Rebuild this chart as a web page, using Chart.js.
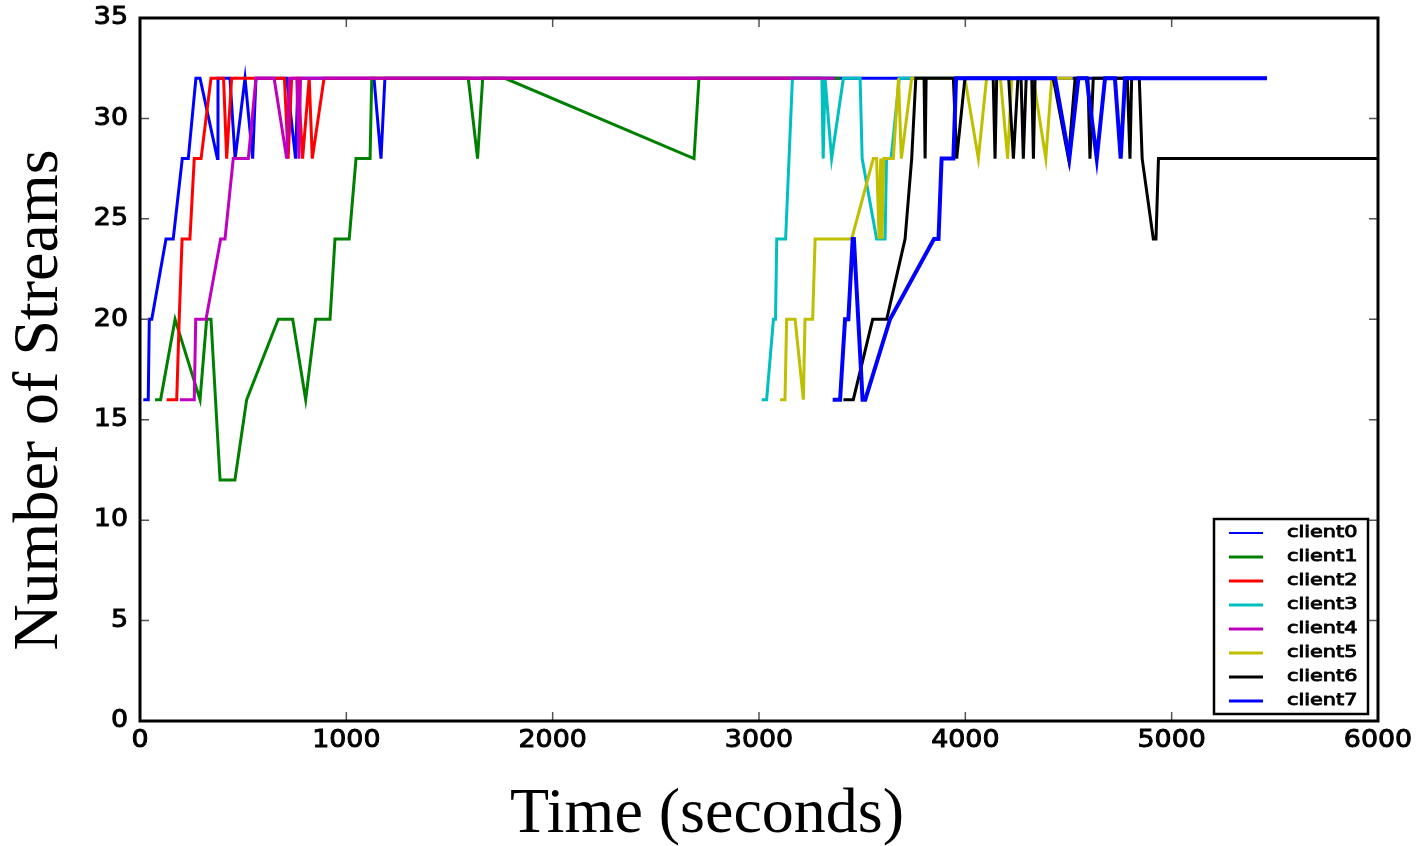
<!DOCTYPE html>
<html>
<head>
<meta charset="utf-8">
<script src="https://cdn.jsdelivr.net/npm/chart.js@4.4.1/dist/chart.umd.min.js"></script>
<style>
  body { margin: 0; background: #fff; }
  #wrap { width: 1425px; height: 846px; }
</style>
</head>
<body>
<div id="wrap"><canvas id="myChart" width="1425" height="846"></canvas></div>
<script>
// stream counts per client over elapsed time
var clientNames = ['client0', 'client1', 'client2', 'client3', 'client4', 'client5', 'client6', 'client7'];
var clientColors = ['#0000ff', '#008000', '#ff0000', '#00bfbf', '#bf00bf', '#bfbf00', '#000000', '#0000ff'];

var client0Time = [16, 40, 45, 57, 126, 161, 205, 234, 271, 291, 375, 378, 436, 461, 509, 546, 562, 711, 754, 766, 1134, 1168, 1187, 5462];
var client0Streams = [16, 16, 20, 20, 24, 24, 28, 28, 32, 32, 28, 32, 32, 28, 32, 28, 32, 32, 28, 32, 32, 28, 32, 32];

var client1Time = [73, 100, 170, 291, 323, 344, 388, 460, 517, 670, 740, 803, 851, 921, 945, 1014, 1047, 1115, 1123, 1591, 1636, 1661, 1769, 2685, 2709, 3395];
var client1Streams = [16, 16, 20, 16, 20, 20, 12, 12, 16, 20, 20, 16, 20, 20, 24, 24, 28, 28, 32, 32, 28, 32, 32, 28, 32, 32];

var client2Time = [129, 178, 190, 204, 242, 263, 296, 344, 405, 420, 444, 700, 718, 735, 766, 788, 820, 835, 892, 3300];
var client2Streams = [16, 16, 20, 24, 24, 28, 28, 32, 32, 28, 32, 32, 28, 32, 32, 28, 32, 28, 32, 32];

var client3Time = [3013, 3037, 3070, 3080, 3086, 3129, 3162, 3305, 3311, 3320, 3352, 3409, 3490, 3500, 3570, 3611, 3618, 3640, 3680, 4400];
var client3Streams = [16, 16, 20, 20, 24, 24, 32, 32, 28, 32, 28, 32, 32, 28, 24, 24, 28, 28, 32, 32];

var client4Time = [194, 263, 270, 320, 391, 412, 452, 525, 562, 650, 711, 724, 760, 770, 778, 3368];
var client4Streams = [16, 16, 20, 20, 24, 24, 28, 28, 32, 32, 28, 32, 32, 28, 32, 32];

var client5Time = [3102, 3126, 3134, 3175, 3215, 3223, 3260, 3272, 3449, 3554, 3570, 3582, 3590, 3596, 3605, 3651, 3676, 3690, 3740, 3998, 4063, 4103, 4170, 4205, 4225, 4329, 4390, 4419, 4520];
var client5Streams = [16, 16, 20, 20, 16, 20, 20, 24, 24, 28, 28, 24, 28, 24, 28, 28, 32, 28, 32, 32, 28, 32, 32, 28, 32, 32, 28, 32, 32];

var client6Time = [3409, 3457, 3551, 3619, 3708, 3740, 3760, 3800, 3805, 3810, 3942, 3958, 3998, 4135, 4144, 4152, 4210, 4233, 4255, 4270, 4281, 4295, 4322, 4330, 4338, 4426, 4500, 4532, 4594, 4604, 4620, 4785, 4798, 4806, 4843, 4857, 4911, 4924, 4936, 5995];
var client6Streams = [16, 16, 20, 20, 24, 28, 32, 32, 28, 32, 32, 28, 32, 32, 28, 32, 32, 28, 32, 32, 28, 32, 32, 28, 32, 32, 28, 32, 32, 28, 32, 32, 28, 32, 32, 28, 24, 24, 28, 28];

var client7Time = [3357, 3393, 3417, 3433, 3454, 3460, 3502, 3515, 3635, 3848, 3870, 3885, 3942, 3955, 4435, 4504, 4548, 4588, 4637, 4677, 4725, 4753, 4774, 5462];
var client7Streams = [16, 16, 20, 20, 24, 24, 16, 16, 20, 24, 24, 28, 28, 32, 32, 28, 32, 32, 28, 32, 32, 28, 32, 32];

var xTicks = [0, 1000, 2000, 3000, 4000, 5000, 6000];
var yTicks = [0, 5, 10, 15, 20, 25, 30, 35];

var allTimes = [client0Time, client1Time, client2Time, client3Time, client4Time, client5Time, client6Time, client7Time];
var allStreams = [client0Streams, client1Streams, client2Streams, client3Streams, client4Streams, client5Streams, client6Streams, client7Streams];

function points(ts, vs) {
  var out = [];
  for (var i = 0; i < ts.length; i++) out.push({ x: ts[i], y: vs[i] });
  return out;
}

var datasets = [];
for (var i = 0; i < clientNames.length; i++) {
  datasets.push({
    label: clientNames[i],
    data: points(allTimes[i], allStreams[i]),
    borderColor: clientColors[i],
    backgroundColor: clientColors[i],
    borderWidth: i == 7 ? 4 : 3,
    pointRadius: 0,
    tension: 0,
    fill: false,
    order: 7 - i   // later clients drawn on top
  });
}

// sans labels come out wide and heavy, so stretch and outline them a little
function stretchText(ctx, txt, x, y, align, sx) {
  ctx.save();
  ctx.translate(x, y);
  ctx.scale(sx, 1);
  ctx.textAlign = align;
  ctx.lineWidth = 0.9;
  ctx.strokeStyle = '#000';
  ctx.fillText(txt, 0, 0);
  ctx.strokeText(txt, 0, 0);
  ctx.restore();
}

// frame, inward ticks, labels and legend box
var decor = {
  id: 'decor',
  afterDatasetsDraw: function (chart) {
    var ctx = chart.ctx;
    var a = chart.chartArea;
    var xs = chart.scales.x, ys = chart.scales.y;

    ctx.save();
    ctx.strokeStyle = '#555';
    ctx.lineWidth = 1.5;
    ctx.beginPath();
    yTicks.forEach(function (v) {
      var py = ys.getPixelForValue(v);
      ctx.moveTo(a.left, py); ctx.lineTo(a.left + 9, py);
      ctx.moveTo(a.right, py); ctx.lineTo(a.right - 9, py);
    });
    xTicks.forEach(function (v) {
      var px = xs.getPixelForValue(v);
      ctx.moveTo(px, a.top); ctx.lineTo(px, a.top + 9);
      ctx.moveTo(px, a.bottom); ctx.lineTo(px, a.bottom - 9);
    });
    ctx.stroke();

    ctx.strokeStyle = '#000';
    ctx.lineWidth = 3;
    ctx.strokeRect(a.left, a.top, a.right - a.left, a.bottom - a.top);

    ctx.fillStyle = '#000';
    ctx.font = '24px "DejaVu Sans"';
    ctx.textBaseline = 'middle';
    yTicks.forEach(function (v) {
      stretchText(ctx, String(v), a.left - 12, ys.getPixelForValue(v), 'right', 1.12);
    });
    xTicks.forEach(function (v) {
      stretchText(ctx, String(v), xs.getPixelForValue(v), a.bottom + 20, 'center', 1.12);
    });

    ctx.font = '64px "Liberation Serif"';
    ctx.textAlign = 'center';
    ctx.fillText('Time (seconds)', 707, 815);
    ctx.save();
    ctx.translate(40, 400);
    ctx.rotate(-Math.PI / 2);
    ctx.fillText('Number of Streams', 0, 0);
    ctx.restore();

    // legend
    var lx = a.right - 164, ly = a.bottom - 202, lw = 154, lh = 195;
    ctx.fillStyle = '#fff';
    ctx.fillRect(lx, ly, lw, lh);
    ctx.strokeStyle = '#000';
    ctx.lineWidth = 2.5;
    ctx.strokeRect(lx, ly, lw, lh);
    ctx.font = '16px "DejaVu Sans"';
    chart.data.datasets.forEach(function (ds, i) {
      var yy = ly + 14 + i * 24;
      ctx.strokeStyle = ds.borderColor;
      ctx.lineWidth = i == 0 ? 2 : 3;
      ctx.beginPath();
      ctx.moveTo(lx + 15, yy); ctx.lineTo(lx + 49, yy);
      ctx.stroke();
      ctx.fillStyle = '#000';
      stretchText(ctx, ds.label, lx + 73, yy, 'left', 1.3);
    });
    ctx.restore();
  }
};

new Chart(document.getElementById('myChart'), {
  type: 'line',
  data: { datasets: datasets },
  options: {
    responsive: false,
    animation: false,
    devicePixelRatio: 1,
    layout: { padding: { left: 140, top: 18, right: 47, bottom: 125 } },
    plugins: { legend: { display: false }, tooltip: { enabled: false } },
    scales: {
      x: { type: 'linear', min: 0, max: 6000, display: false },
      y: { type: 'linear', min: 0, max: 35, display: false }
    }
  },
  plugins: [decor]
});
</script>
</body>
</html>
